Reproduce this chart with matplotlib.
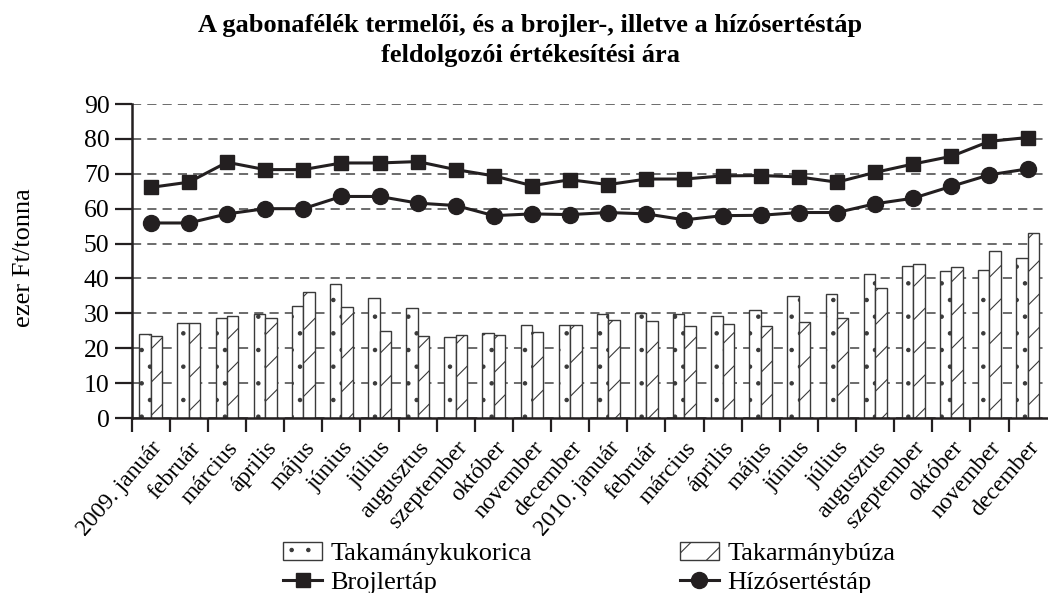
import matplotlib
matplotlib.use("Agg")
import matplotlib.pyplot as plt
import numpy as np

honapok = ["január", "február", "március", "április", "május", "június",
           "július", "augusztus", "szeptember", "október", "november", "december"]
cimkek = ["2009. " + honapok[0]] + honapok[1:] + ["2010. " + honapok[0]] + honapok[1:]

kukorica = [24.1, 27.2, 28.7, 29.9, 32.2, 38.3, 34.3, 31.5, 23.1, 24.5, 26.6, 26.6,
            29.8, 30.1, 29.8, 29.1, 31.0, 35.1, 35.5, 41.2, 43.7, 42.2, 42.5, 46.0]
buza = [23.5, 27.2, 29.2, 28.6, 36.1, 31.7, 25.0, 23.6, 23.9, 23.9, 24.7, 26.8,
        28.1, 27.8, 26.4, 27.0, 26.3, 27.5, 28.8, 37.4, 44.2, 43.2, 48.0, 52.9]
brojler = [66.1, 67.6, 73.3, 71.2, 71.2, 73.1, 73.1, 73.5, 71.2, 69.4, 66.6, 68.3,
           66.9, 68.5, 68.5, 69.4, 69.5, 69.1, 67.6, 70.4, 72.8, 75.0, 79.3, 80.4]
hizo = [55.9, 55.9, 58.5, 60.0, 60.0, 63.5, 63.5, 61.6, 60.9, 58.0, 58.5, 58.3,
        58.9, 58.5, 56.8, 58.0, 58.1, 58.9, 58.9, 61.4, 63.0, 66.4, 69.7, 71.4]

sotet = "#231f20"
plt.rcParams["font.family"] = ["Liberation Serif", "DejaVu Serif"]
plt.rcParams["hatch.linewidth"] = 0.8

fig = plt.figure(figsize=(10.48, 5.93), dpi=100)
ax = fig.add_axes([0.1257, 0.2951, 0.873, 0.5295])

x = np.arange(len(cimkek))
w = 0.3
b1 = ax.bar(x - w / 2, kukorica, w, facecolor="white", edgecolor="#3a3a3a",
            hatch=".", linewidth=1.0, label="Takamánykukorica", zorder=2)
b2 = ax.bar(x + w / 2, buza, w, facecolor="white", edgecolor="#3a3a3a",
            hatch="/", linewidth=1.0, label="Takarmánybúza", zorder=2)
l1, = ax.plot(x, brojler, color=sotet, lw=2.2, marker="s", ms=10.5,
              label="Brojlertáp", zorder=3)
l2, = ax.plot(x, hizo, color=sotet, lw=2.2, marker="o", ms=11.5,
              label="Hízósertéstáp", zorder=3)

ax.set_xlim(-0.5, len(cimkek) - 0.5)
ax.set_ylim(0, 90)
ax.set_yticks(range(0, 91, 10))
ax.yaxis.grid(True, linestyle=(0, (6, 4)), color="#444444", lw=1.1)
ax.set_axisbelow(True)

ax.set_xticks(x - 0.5, minor=False)
ax.set_xticklabels([])
ax.set_xticks(x, minor=True)
ax.set_xticklabels(cimkek, minor=True, rotation=49, ha="right",
                   rotation_mode="anchor", fontsize=17)
ax.tick_params(axis="x", which="minor", length=0, pad=14)
ax.tick_params(axis="x", which="major", length=10, width=1.6, color=sotet)
ax.tick_params(axis="y", length=12, width=1.6, color=sotet, labelsize=18.5, pad=4)

for s in ["top", "right"]:
    ax.spines[s].set_visible(False)
for s in ["left", "bottom"]:
    ax.spines[s].set_linewidth(1.8)
    ax.spines[s].set_color(sotet)

ax.set_ylabel("ezer Ft/tonna", fontsize=19)
ax.yaxis.set_label_coords(-0.106, 0.51)

fig.text(0.506, 0.977, "A gabonafélék termelői, és a brojler-, illetve a hízósertéstáp\n"
         "feldolgozói értékesítési ára", ha="center", va="top",
         fontsize=19, fontweight="bold", linespacing=1.4)

fig.legend(handles=[b1, l1, b2, l2], ncol=2, loc="center",
           bbox_to_anchor=(0.562, 0.042), frameon=False, fontsize=19,
           handlelength=1.5, handletextpad=0.3, columnspacing=5.6,
           labelspacing=0.22, borderpad=0)

fig.savefig("out.png", dpi=100)
